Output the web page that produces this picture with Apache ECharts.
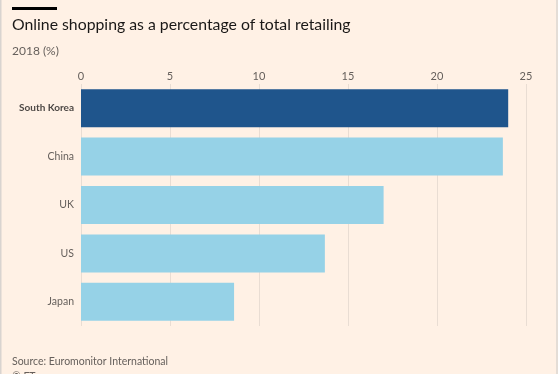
<!DOCTYPE html>
<html><head><meta charset="utf-8">
<script src="https://cdn.jsdelivr.net/npm/echarts@6/dist/echarts.min.js"></script>
<style>html,body{margin:0;padding:0;background:#FFF1E5}#c{width:558px;height:374px}</style>
</head><body><div id="c"></div>
<script>
const categories = ['South Korea', 'China', 'UK', 'US', 'Japan'];
const values = [24.0, 23.7, 17.0, 13.7, 8.6];
const highlight = 'South Korea';
const xTicks = [0, 5, 10, 15, 20, 25];

const chart = echarts.init(document.getElementById('c'), null, {renderer: 'canvas'});
const font = 'Lato, "Open Sans", sans-serif';
chart.setOption({
  backgroundColor: '#FFF1E5',
  animation: false,
  title: [
    {text: 'Online shopping as a percentage of total retailing', left: 12, top: 17, padding: 0,
     textStyle: {fontFamily: font, fontSize: 15.8, fontWeight: 'normal', color: '#1a1817'}},
    {text: '2018 (%)', left: 12, top: 45, padding: 0,
     textStyle: {fontFamily: font, fontSize: 12, fontWeight: 'normal', color: '#66605c'}},
    {text: 'Source: Euromonitor International', left: 12, top: 356, padding: 0,
     textStyle: {fontFamily: font, fontSize: 10.5, fontWeight: 'normal', color: '#66605c'}},
    {text: '© FT', left: 12, top: 371, padding: 0,
     textStyle: {fontFamily: font, fontSize: 10.5, fontWeight: 'normal', color: '#66605c'}}
  ],
  graphic: [
    {type: 'rect', left: 12, top: 7, shape: {width: 45, height: 3}, style: {fill: '#000'}},
    {type: 'rect', left: 0, top: 0, shape: {width: 1.5, height: 374}, style: {fill: '#d9d4d0'}},
    {type: 'rect', right: 0, top: 0, shape: {width: 2, height: 374}, style: {fill: '#e4ddd6'}}
  ],
  grid: {left: 81, right: 32, top: 84, height: 242, containLabel: false},
  xAxis: {
    type: 'value', position: 'top', min: 0, max: 25, interval: 5,
    axisLine: {show: false}, axisTick: {show: false},
    axisLabel: {color: '#66605c', fontFamily: font, fontSize: 11, margin: 2,
      formatter: v => xTicks.includes(v) ? String(v) : ''},
    splitLine: {show: true, lineStyle: {color: '#e9ddd3', width: 1}}
  },
  yAxis: {
    type: 'category', inverse: true, data: categories,
    axisLine: {show: false}, axisTick: {show: false},
    axisLabel: {margin: 7, fontFamily: font, fontSize: 10.5,
      formatter: v => v === highlight ? '{b|' + v + '}' : '{n|' + v + '}',
      rich: {b: {fontWeight: 'bold', color: '#4d4845', fontFamily: font, fontSize: 10},
             n: {color: '#66605c', fontFamily: font, fontSize: 10.5}}}
  },
  series: [{
    type: 'bar', barWidth: 38,
    data: values.map((v, i) => ({value: v, itemStyle: {color: categories[i] === highlight ? '#1f558c' : '#96d2e7'}}))
  }]
});
</script></body></html>
